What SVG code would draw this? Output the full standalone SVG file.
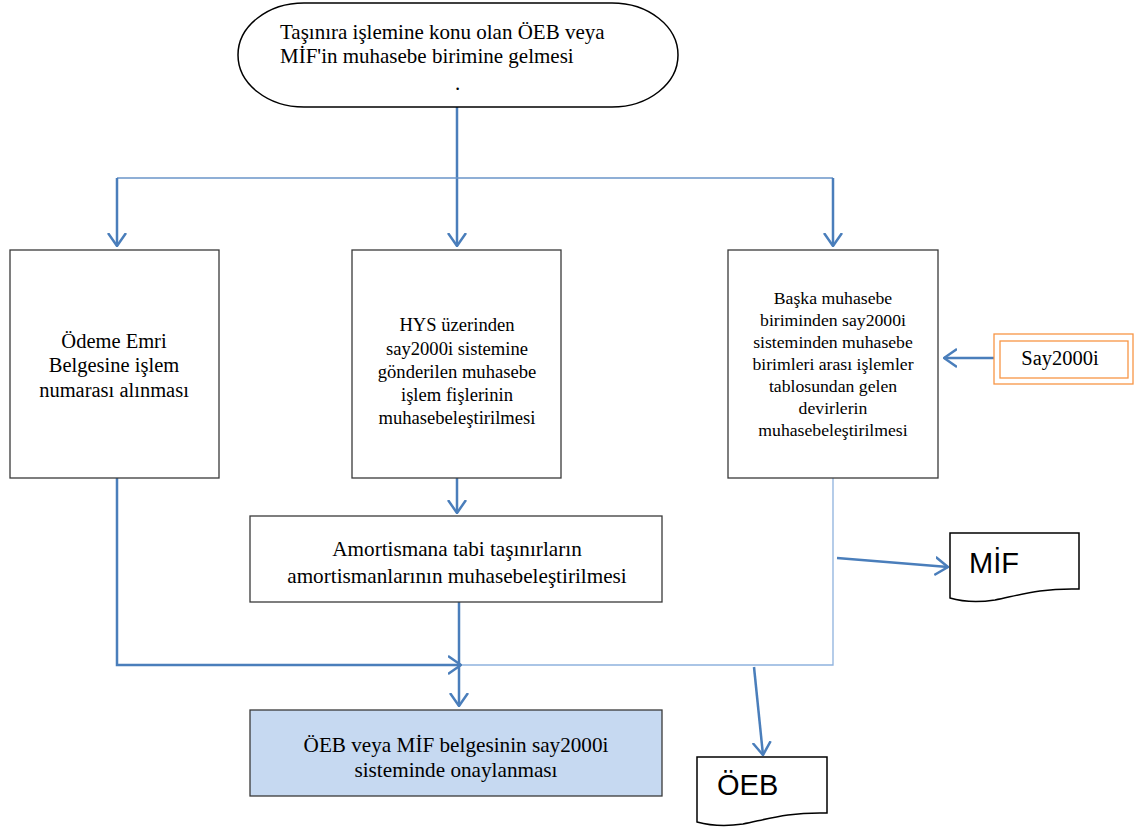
<svg xmlns="http://www.w3.org/2000/svg" width="1141" height="829" viewBox="0 0 1141 829">
<style>
.box{fill:#ffffff;stroke:#3a3a3a;stroke-width:1.3}
.t{font-family:"Liberation Serif","Times New Roman",serif;fill:#000}
.c{text-anchor:middle}
.s{font-family:"Liberation Sans",Arial,sans-serif;fill:#000}
.k{fill:none;stroke:#4a7ebb;stroke-width:2.5}
.thin{fill:none;stroke:#6a95c9;stroke-width:1.3}
.light{fill:none;stroke:#8fb2de;stroke-width:1.3}
</style>
<defs>
<marker id="ar" viewBox="0 0 14 20" refX="13" refY="10" markerWidth="14" markerHeight="20" markerUnits="userSpaceOnUse" orient="auto">
<path d="M0,1 L13,10 L0,19" fill="none" stroke="#4a7ebb" stroke-width="2.5"/>
</marker>
</defs>
<g id="connectors">
<path class="k" d="M457,107 V246" marker-end="url(#ar)"/>
<path class="thin" d="M117,178 H833"/>
<path class="k" d="M117,178 V246" marker-end="url(#ar)"/>
<path class="k" d="M833,178 V246" marker-end="url(#ar)"/>
<path class="k" d="M457,470 V513" marker-end="url(#ar)"/>
<path class="k" d="M117,468 V665 H461" marker-end="url(#ar)"/>
<path class="light" d="M833,478 V665 H462"/>
<path class="k" d="M459,598 V706" marker-end="url(#ar)"/>
<path class="k" d="M994,358 H944" marker-end="url(#ar)"/>
<path class="k" d="M837,558 L948,567" marker-end="url(#ar)"/>
<path class="k" d="M754,667 L763,755" marker-end="url(#ar)"/>
</g>
<g id="start">
<rect x="238" y="3" width="440" height="104" rx="66" ry="52" fill="#fff" stroke="#000" stroke-width="1.5"/>
<text class="t" x="280" y="39" font-size="21">Taşınıra işlemine konu olan ÖEB veya</text>
<text class="t" x="280" y="63" font-size="21">MİF'in muhasebe birimine gelmesi</text>
<text class="t" x="455" y="90" font-size="21">.</text>
</g>
<g id="odeme">
<rect class="box" x="10" y="250" width="209" height="228"/>
<text class="t c" font-size="20.5"><tspan x="114" y="348">Ödeme Emri</tspan><tspan x="114" y="372">Belgesine işlem</tspan><tspan x="114" y="397">numarası alınması</tspan></text>
</g>
<g id="hys">
<rect class="box" x="352" y="250" width="209" height="228"/>
<text class="t c" font-size="18.6"><tspan x="457" y="331">HYS üzerinden</tspan><tspan x="457" y="355">say2000i sistemine</tspan><tspan x="457" y="378">gönderilen muhasebe</tspan><tspan x="457" y="401">işlem fişlerinin</tspan><tspan x="457" y="424">muhasebeleştirilmesi</tspan></text>
</g>
<g id="baska">
<rect class="box" x="728" y="250" width="210" height="228"/>
<text class="t c" font-size="17.7"><tspan x="833" y="304">Başka muhasebe</tspan><tspan x="833" y="326">biriminden say2000i</tspan><tspan x="833" y="348">sisteminden muhasebe</tspan><tspan x="833" y="370">birimleri arası işlemler</tspan><tspan x="833" y="392">tablosundan gelen</tspan><tspan x="833" y="414">devirlerin</tspan><tspan x="833" y="436">muhasebeleştirilmesi</tspan></text>
</g>
<g id="say2000i">
<rect x="994" y="334" width="139" height="50" fill="#fff" stroke="#f79646" stroke-width="1.3"/>
<rect x="1000" y="341" width="128" height="37" fill="#fff" stroke="#f79646" stroke-width="1.3"/>
<text class="t c" x="1060" y="365" font-size="20.5">Say2000i</text>
</g>
<g id="amortisman">
<rect class="box" x="250" y="516" width="412" height="86"/>
<text class="t c" font-size="21.2"><tspan x="457" y="556">Amortismana tabi taşınırların</tspan><tspan x="457" y="583">amortismanlarının muhasebeleştirilmesi</tspan></text>
</g>
<g id="onay">
<rect x="250" y="710" width="412" height="86" fill="#c6d9f1" stroke="#3a3a3a" stroke-width="1.3"/>
<text class="t c" font-size="21.2"><tspan x="456" y="752">ÖEB veya MİF belgesinin say2000i</tspan><tspan x="456" y="777">sisteminde onaylanması</tspan></text>
</g>
<g id="mif">
<path d="M950,533 H1079 V589 C1040,588 1020,595 995,600 C975,603 960,601 950,598 Z" fill="#fff" stroke="#000" stroke-width="1.5"/>
<text class="s" x="969" y="573" font-size="29">MİF</text>
</g>
<g id="oeb">
<path d="M697,757 H827 V813 C788,812 768,819 743,824 C723,827 708,825 697,822 Z" fill="#fff" stroke="#000" stroke-width="1.5"/>
<text class="s" x="717" y="795" font-size="29">ÖEB</text>
</g>
</svg>
